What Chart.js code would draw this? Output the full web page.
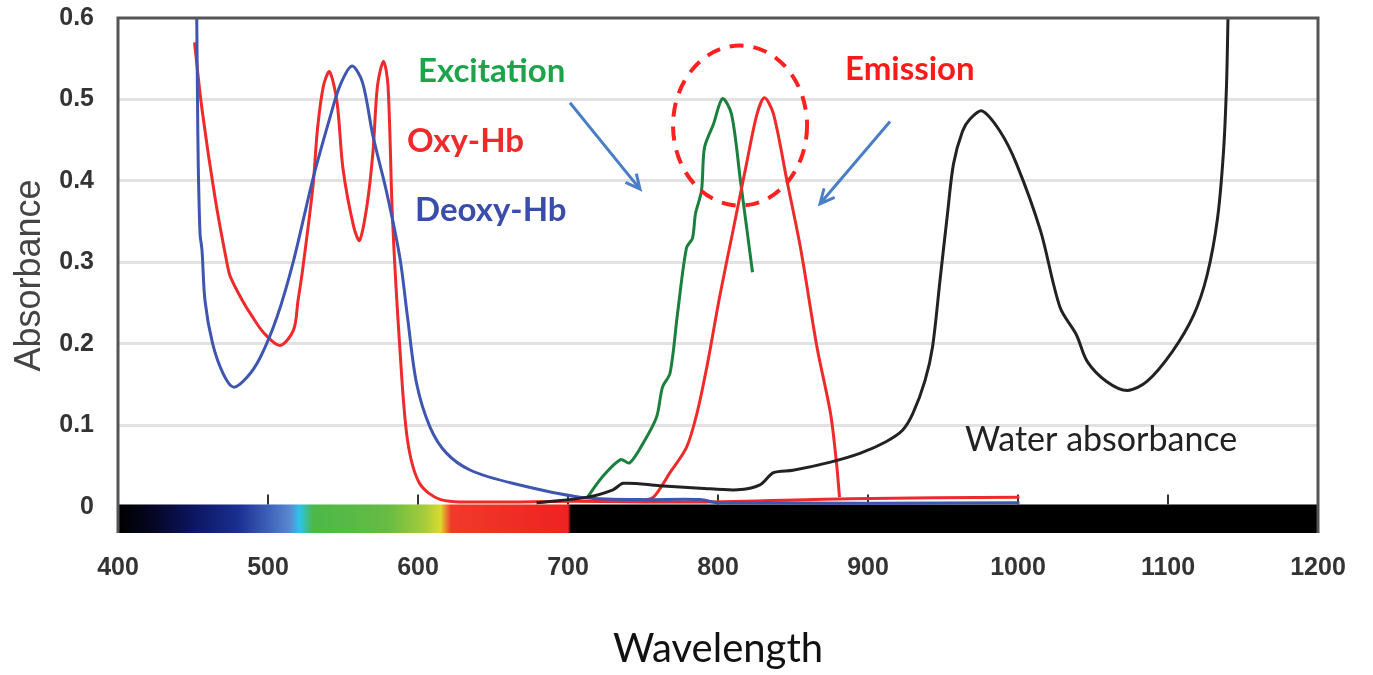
<!DOCTYPE html>
<html>
<head>
<meta charset="utf-8">
<script src="https://cdn.jsdelivr.net/npm/chart.js@4"></script>
<style>
  html, body { margin: 0; padding: 0; background: #fff; }
  #wrap { width: 1373px; height: 675px; }
</style>
</head>
<body>
<div id="wrap"><canvas id="chart"></canvas></div>
<script>
// wavelength (nm) / absorbance pairs
const oxyNm  = [451, 456, 465, 473, 475, 483, 489, 497, 508, 517, 520, 523, 530, 533, 537, 541, 546, 550, 557, 561, 566, 570, 573, 577, 580, 583, 588, 593, 601, 615, 641, 703, 788, 888, 1001];
const oxyAbs = [0.570, 0.488, 0.376, 0.296, 0.282, 0.253, 0.235, 0.214, 0.198, 0.217, 0.253, 0.290, 0.394, 0.464, 0.517, 0.534, 0.497, 0.415, 0.345, 0.327, 0.370, 0.436, 0.517, 0.547, 0.517, 0.354, 0.192, 0.082, 0.029, 0.009, 0.006, 0.007, 0.006, 0.010, 0.012];

const deoxyNm  = [452.5, 453, 453.5, 454.7, 456, 458, 463, 470, 477, 486, 495, 506, 517, 530, 541, 548, 556, 563, 570, 579, 588, 593, 599, 608, 619, 635, 663, 708, 748, 788, 801, 1001];
const deoxyAbs = [0.600, 0.500, 0.420, 0.335, 0.315, 0.253, 0.201, 0.164, 0.147, 0.159, 0.184, 0.233, 0.302, 0.403, 0.476, 0.517, 0.541, 0.521, 0.455, 0.387, 0.305, 0.233, 0.152, 0.098, 0.066, 0.045, 0.029, 0.012, 0.009, 0.009, 0.005, 0.005];

const excNm  = [713, 723, 735, 741, 750, 759, 763, 768, 773, 779, 783, 785, 789, 791, 797, 803, 809, 815, 823];
const excAbs = [0.012, 0.037, 0.058, 0.054, 0.078, 0.110, 0.147, 0.164, 0.237, 0.318, 0.330, 0.360, 0.388, 0.441, 0.470, 0.501, 0.482, 0.400, 0.288];

const emNm  = [748, 757, 768, 779, 786, 793, 801, 810, 819, 826, 831, 837, 846, 855, 866, 875, 879, 881];
const emAbs = [0.007, 0.012, 0.042, 0.073, 0.115, 0.176, 0.257, 0.339, 0.421, 0.482, 0.502, 0.482, 0.400, 0.318, 0.196, 0.115, 0.054, 0.012];

const waterNm  = [679, 713, 730, 737, 761, 788, 813, 828, 837, 850, 875, 895, 912, 923, 930, 938, 943, 948, 953, 957, 963, 968, 976, 988, 999, 1015, 1028, 1039, 1046, 1059, 1073, 1086, 1103, 1117, 1126, 1133, 1137, 1139, 1140];
const waterAbs = [0.005, 0.012, 0.021, 0.029, 0.026, 0.023, 0.021, 0.027, 0.042, 0.045, 0.055, 0.066, 0.080, 0.094, 0.115, 0.155, 0.196, 0.278, 0.360, 0.421, 0.461, 0.476, 0.486, 0.461, 0.421, 0.339, 0.245, 0.211, 0.179, 0.154, 0.143, 0.154, 0.191, 0.235, 0.284, 0.354, 0.436, 0.517, 0.600];

const xTicks = [400, 500, 600, 700, 800, 900, 1000, 1100, 1200];
const yTicks = [0, 0.1, 0.2, 0.3, 0.4, 0.5, 0.6];

// colour bar under the axis (visible spectrum)
const spectrumNm = [400, 420, 450, 480, 500, 515, 521, 530, 580, 605, 615, 622, 700, 702, 1200];
const spectrumCol = ['#000000', '#05051e', '#0c1560', '#1a2f90', '#3d60b8', '#5a8ad0', '#2cc4ea', '#4cb848', '#66bb44', '#a8cc3a', '#dada30', '#f03a2a', '#ee2222', '#000000', '#000000'];

const pts = (xs, ys) => xs.map((x, i) => ({ x: x, y: ys[i] }));

const line = (data, color, width) => ({
    data: data,
    borderColor: color,
    borderWidth: width,
    pointRadius: 0,
    fill: false,
    tension: 0.3
});

const decor = {
    id: 'decor',
    beforeDatasetsDraw(chart) {
        const { ctx, chartArea: a, scales: { x, y } } = chart;
        const g = ctx.createLinearGradient(a.left, 0, a.right, 0);
        spectrumNm.forEach((nm, i) => g.addColorStop((nm - 400) / 800, spectrumCol[i]));
        ctx.save();
        const top = y.getPixelForValue(0.003);
        ctx.fillStyle = g;
        ctx.fillRect(a.left, top, a.right - a.left, a.bottom - top);
        ctx.strokeStyle = '#333';
        ctx.lineWidth = 2;
        xTicks.slice(1, -1).forEach(v => {
            const px = x.getPixelForValue(v);
            ctx.beginPath();
            ctx.moveTo(px, top);
            ctx.lineTo(px, top - 10);
            ctx.stroke();
        });
        ctx.restore();
    },
    afterDatasetsDraw(chart) {
        const { ctx, chartArea: a, scales: { x, y } } = chart;
        ctx.save();

        // dashed circle around the two peaks
        ctx.strokeStyle = '#ff2020';
        ctx.lineWidth = 4;
        ctx.setLineDash([14, 10]);
        ctx.beginPath();
        ctx.ellipse(x.getPixelForValue(814.7), y.getPixelForValue(0.468), 67, 80, 0, 0, Math.PI * 2);
        ctx.stroke();
        ctx.setLineDash([]);

        // arrows
        const arrow = (x1, y1, x2, y2) => {
            const p1 = [x.getPixelForValue(x1), y.getPixelForValue(y1)];
            const p2 = [x.getPixelForValue(x2), y.getPixelForValue(y2)];
            const ang = Math.atan2(p2[1] - p1[1], p2[0] - p1[0]);
            ctx.strokeStyle = '#4a7fc8';
            ctx.lineWidth = 3;
            ctx.beginPath();
            ctx.moveTo(p1[0], p1[1]);
            ctx.lineTo(p2[0], p2[1]);
            ctx.moveTo(p2[0] - 16 * Math.cos(ang - 0.45), p2[1] - 16 * Math.sin(ang - 0.45));
            ctx.lineTo(p2[0], p2[1]);
            ctx.lineTo(p2[0] - 16 * Math.cos(ang + 0.45), p2[1] - 16 * Math.sin(ang + 0.45));
            ctx.stroke();
        };
        arrow(701.3, 0.496, 748, 0.390);
        arrow(914.7, 0.473, 868, 0.372);

        // labels
        ctx.textBaseline = 'middle';
        ctx.textAlign = 'left';
        ctx.font = 'bold 33px Lato';
        ctx.fillStyle = '#1da44a';
        ctx.fillText('Excitation', x.getPixelForValue(600), y.getPixelForValue(0.535));
        ctx.fillStyle = '#ff1a1a';
        ctx.fillText('Emission', x.getPixelForValue(884.7), y.getPixelForValue(0.537));
        ctx.fillStyle = '#f02a2a';
        ctx.fillText('Oxy-Hb', x.getPixelForValue(592.7), y.getPixelForValue(0.449));
        ctx.fillStyle = '#3a4ea8';
        ctx.fillText('Deoxy-Hb', x.getPixelForValue(598), y.getPixelForValue(0.364));
        ctx.font = '34px Lato';
        ctx.fillStyle = '#222';
        ctx.fillText('Water absorbance', x.getPixelForValue(964.7), y.getPixelForValue(0.082));

        // plot frame
        ctx.strokeStyle = '#555';
        ctx.lineWidth = 3;
        ctx.beginPath();
        ctx.moveTo(a.left, a.bottom);
        ctx.lineTo(a.left, a.top);
        ctx.lineTo(a.right, a.top);
        ctx.lineTo(a.right, a.bottom);
        ctx.stroke();
        ctx.restore();
    }
};

new Chart(document.getElementById('chart'), {
    type: 'line',
    data: {
        datasets: [
            line(pts(waterNm, waterAbs), '#222222', 3),
            line(pts(deoxyNm, deoxyAbs), '#3f56b0', 3),
            line(pts(oxyNm, oxyAbs), '#ee2a2a', 3),
            line(pts(emNm, emAbs), '#ee2a2a', 3),
            line(pts(excNm, excAbs), '#1b7f3e', 3)
        ]
    },
    options: {
        responsive: true,
        maintainAspectRatio: false,
        animation: false,
        layout: { padding: { top: 18, right: 55, left: 0, bottom: 0 } },
        plugins: { legend: { display: false }, tooltip: { enabled: false } },
        scales: {
            x: {
                type: 'linear',
                min: 400,
                max: 1200,
                afterBuildTicks: s => { s.ticks = xTicks.map(v => ({ value: v })); },
                afterFit: s => { s.height = 142; s.paddingLeft = 0; s.paddingRight = 0; },
                grid: { display: false },
                border: { display: false },
                ticks: {
                    padding: 12,
                    color: '#333',
                    font: { family: 'Liberation Sans', size: 25, weight: 'bold' },
                    callback: v => String(v)
                },
                title: {
                    display: true,
                    text: 'Wavelength',
                    color: '#111',
                    font: { family: 'Lato', size: 40 },
                    padding: { top: 0, bottom: 2 }
                }
            },
            y: {
                min: -0.032,
                max: 0.6,
                afterBuildTicks: s => { s.ticks = yTicks.map(v => ({ value: v })); },
                afterFit: s => { s.width = 118; s.paddingTop = 0; s.paddingBottom = 0; },
                grid: {
                    color: c => (c.tick && (c.tick.value === 0 || c.tick.value === 0.6)) ? 'rgba(0,0,0,0)' : '#e2e2e2',
                    lineWidth: 3,
                    drawTicks: false
                },
                border: { display: false },
                ticks: {
                    padding: 24,
                    color: '#333',
                    font: { family: 'Liberation Sans', size: 25, weight: 'bold' },
                    callback: v => String(v)
                },
                title: {
                    display: true,
                    text: 'Absorbance',
                    color: '#444',
                    font: { family: 'Liberation Sans', size: 36 },
                    padding: { top: 8, bottom: 0 }
                }
            }
        }
    },
    plugins: [decor]
});
</script>
</body>
</html>
